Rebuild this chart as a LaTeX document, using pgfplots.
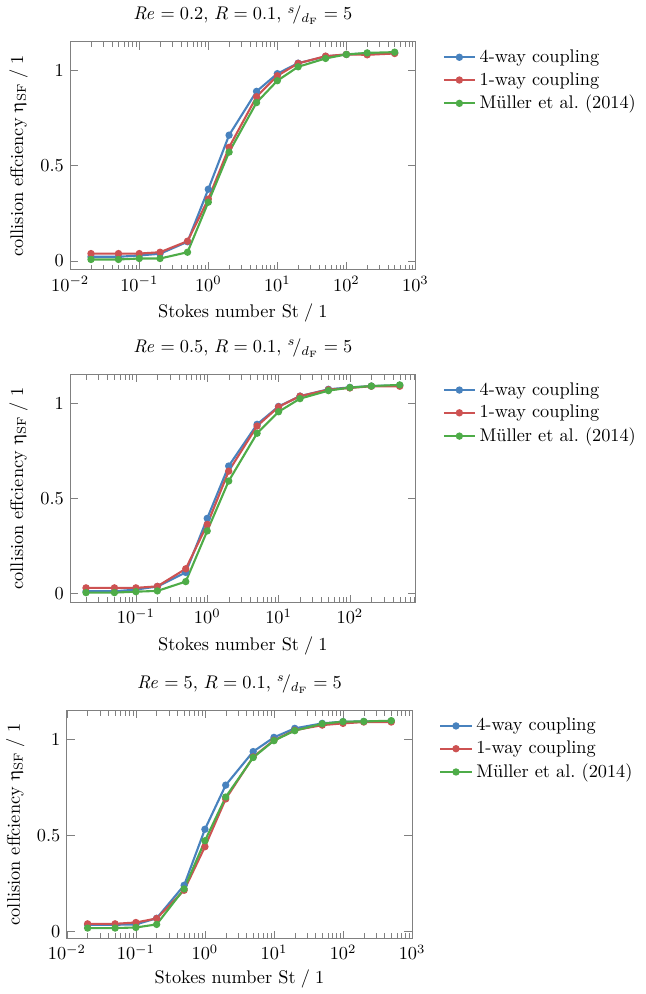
\documentclass[border=0pt]{standalone}
\usepackage{pgfplots}
\pgfplotsset{compat=1.18}
\usepackage{upgreek}
\definecolor{cblue}{RGB}{72,130,190}
\definecolor{cred}{RGB}{205,82,82}
\definecolor{cgreen}{RGB}{78,172,72}
\pgfplotsset{
  s/.style={#1, line width=1.15pt, mark=*, mark size=1.4pt, mark options={solid}},
  myax/.style={
    scale only axis, width=188.6pt, height=124.5pt,
    axis line style={gray}, tick style={gray},
    ytick={0,0.5,1}, yticklabels={0,0.5,1},
    ymin=-0.047, ymax=1.15,
    xlabel={Stokes number $\mathrm{St}\;/\;1$},
    ylabel={collision effciency $\upeta_{\mathrm{SF}}\;/\;1$},
    legend style={at={(1.062,1.0)}, anchor=north west, draw=none, fill=none},
    legend cell align=left,
  },
}
\begin{document}
\begin{tikzpicture}
\begin{semilogxaxis}[myax, xmin=0.01, xmax=1000,
  title={$\mathit{Re}=0.2$, $R=0.1$, ${}^{s}\!/{}_{d_{\mathrm{F}}}=5$}]
\addplot[s=cblue] coordinates {(0.02,0.021)(0.05,0.021)(0.1,0.028)(0.2,0.037)(0.5,0.100)(1,0.376)(2,0.660)(5,0.890)(10,0.983)(20,1.038)(50,1.073)(100,1.084)(200,1.089)(500,1.092)};
\addplot[s=cred] coordinates {(0.02,0.038)(0.05,0.038)(0.1,0.038)(0.2,0.045)(0.5,0.103)(1,0.324)(2,0.596)(5,0.862)(10,0.972)(20,1.037)(50,1.075)(100,1.084)(200,1.082)(500,1.089)};
\addplot[s=cgreen] coordinates {(0.02,0.007)(0.05,0.007)(0.1,0.012)(0.2,0.012)(0.5,0.045)(1,0.308)(2,0.571)(5,0.831)(10,0.946)(20,1.019)(50,1.063)(100,1.084)(200,1.092)(500,1.096)};
\legend{4-way coupling,1-way coupling,Müller et al.\ (2014)}
\end{semilogxaxis}
\begin{semilogxaxis}[myax, at={(0,-181.8pt)}, xmin=0.012, xmax=830,
  title={$\mathit{Re}=0.5$, $R=0.1$, ${}^{s}\!/{}_{d_{\mathrm{F}}}=5$}]
\addplot[s=cblue] coordinates {(0.02,0.012)(0.05,0.012)(0.1,0.021)(0.2,0.037)(0.5,0.111)(1,0.395)(2,0.670)(5,0.889)(10,0.983)(20,1.037)(50,1.073)(100,1.083)(200,1.090)(500,1.094)};
\addplot[s=cred] coordinates {(0.02,0.030)(0.05,0.030)(0.1,0.030)(0.2,0.038)(0.5,0.130)(1,0.363)(2,0.643)(5,0.880)(10,0.981)(20,1.037)(50,1.071)(100,1.080)(200,1.089)(500,1.089)};
\addplot[s=cgreen] coordinates {(0.02,0.005)(0.05,0.005)(0.1,0.010)(0.2,0.014)(0.5,0.063)(1,0.329)(2,0.591)(5,0.842)(10,0.955)(20,1.024)(50,1.066)(100,1.082)(200,1.090)(500,1.096)};
\legend{4-way coupling,1-way coupling,Müller et al.\ (2014)}
\end{semilogxaxis}
\begin{semilogxaxis}[myax, at={(-1.85pt,-365.3pt)}, xmin=0.01, xmax=1000, ymin=-0.038,
  xlabel style={yshift=1.5pt},
  title={$\mathit{Re}=5$, $R=0.1$, ${}^{s}\!/{}_{d_{\mathrm{F}}}=5$}]
\addplot[s=cblue] coordinates {(0.02,0.033)(0.05,0.033)(0.1,0.035)(0.2,0.067)(0.5,0.239)(1,0.531)(2,0.761)(5,0.936)(10,1.010)(20,1.057)(50,1.083)(100,1.092)(200,1.093)(500,1.095)};
\addplot[s=cred] coordinates {(0.02,0.038)(0.05,0.038)(0.1,0.045)(0.2,0.066)(0.5,0.213)(1,0.440)(2,0.689)(5,0.908)(10,0.995)(20,1.047)(50,1.074)(100,1.083)(200,1.090)(500,1.090)};
\addplot[s=cgreen] coordinates {(0.02,0.016)(0.05,0.016)(0.1,0.019)(0.2,0.035)(0.5,0.220)(1,0.471)(2,0.699)(5,0.905)(10,0.993)(20,1.045)(50,1.081)(100,1.092)(200,1.093)(500,1.097)};
\legend{4-way coupling,1-way coupling,Müller et al.\ (2014)}
\end{semilogxaxis}
\end{tikzpicture}
\end{document}
